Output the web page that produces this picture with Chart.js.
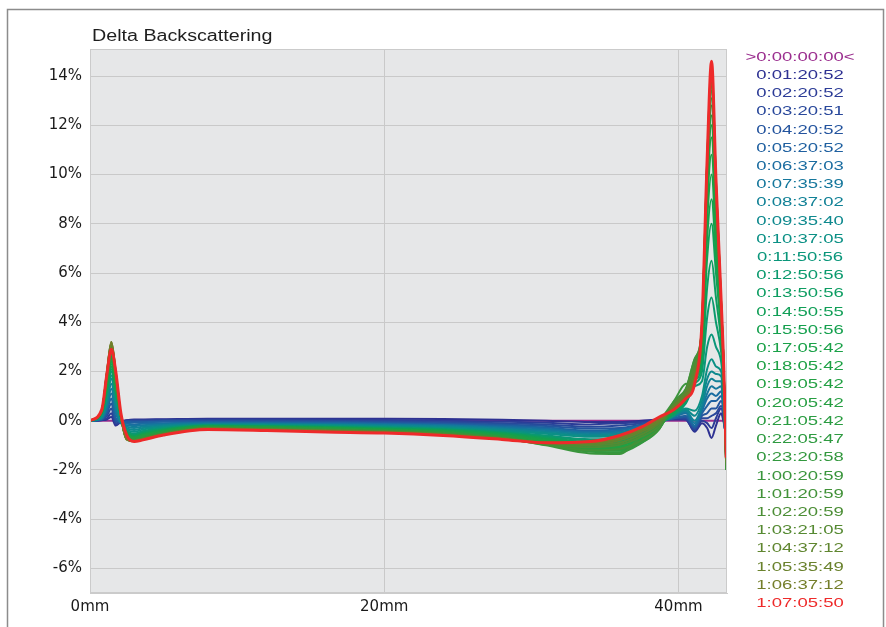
<!DOCTYPE html>
<html>
<head>
<meta charset="utf-8">
<title>Delta Backscattering</title>
<script src="https://cdn.jsdelivr.net/npm/chart.js@4.4.1/dist/chart.umd.min.js"></script>
<style>
  html, body { margin: 0; padding: 0; background: #fff; }
  #wrap { width: 886px; height: 627px; }
</style>
</head>
<body>
<div id="wrap"><canvas id="deltaChart" width="886" height="627"></canvas></div>
<script>
// sample height in the cell (mm)
const positions = [0, 0.8, 1.15, 1.45, 1.75, 2.1, 2.5, 3.0, 3.6, 5, 8, 12, 16, 20, 24, 28, 31, 34, 36, 37.5, 38.7, 39.7, 40.5, 41.1, 41.6, 41.95, 42.25, 42.55, 42.9, 43.05, 43.25];

// scan times (legend)
const timeLabels = ['>0:00:00:00<', '0:01:20:52', '0:02:20:52', '0:03:20:51', '0:04:20:52', '0:05:20:52',
  '0:06:37:03', '0:07:35:39', '0:08:37:02', '0:09:35:40', '0:10:37:05', '0:11:50:56', '0:12:50:56',
  '0:13:50:56', '0:14:50:55', '0:15:50:56', '0:17:05:42', '0:18:05:42', '0:19:05:42', '0:20:05:42',
  '0:21:05:42', '0:22:05:47', '0:23:20:58', '1:00:20:59', '1:01:20:59', '1:02:20:59', '1:03:21:05',
  '1:04:37:12', '1:05:35:49', '1:06:37:12', '1:07:05:50'];

const seriesColors = ['#9b2f8f', '#2e3192', '#2c3c97', '#29489b', '#24549e', '#1f60a0',
  '#1a6ca0', '#15779c', '#118196', '#0e898e', '#0b9085', '#0a967a', '#0b9a6e',
  '#0d9d62', '#119f57', '#15a04e', '#1aa148', '#1ea145', '#22a043', '#269e42',
  '#2a9c41', '#2e9a40', '#33983e', '#3a953c', '#429239', '#4c8e36', '#568a33',
  '#608630', '#6a822d', '#747e2a', '#ee2a2a'];

// delta backscattering (%), one array per scan
const v00 = [0, 0, 0, 0, 0, 0, 0, 0, 0, 0, 0, 0, 0, 0, 0, 0, 0, 0, 0, 0, 0, 0, 0, 0, 0, 0, 0, 0, 0, 0, 0];
const v01 = [0, 0.02, 0.05, 0.15, -0.2, -0.05, 0.02, 0.05, 0.05, 0.06, 0.08, 0.08, 0.08, 0.08, 0.07, 0.04, 0, -0.05, -0.05, 0, 0.05, 0.05, 0.05, -0.45, -0.1, -0.3, -0.7, -0.2, 0.3, 0, -0.6];
const v02 = [0, 0.03, 0.1, 0.3, -0.15, -0.05, 0.01, 0.03, 0.03, 0.04, 0.05, 0.05, 0.04, 0.03, 0, -0.04, -0.08, -0.15, -0.1, -0.05, 0.05, 0.1, 0.05, -0.4, 0, -0.1, -0.3, 0.1, 0.5, 0.2, -0.8];
const v03 = [0, 0.04, 0.2, 0.5, -0.1, -0.05, 0, 0, 0, 0.02, 0.02, 0.01, 0, -0.02, -0.05, -0.1, -0.15, -0.25, -0.2, -0.1, 0, 0.1, 0.1, -0.35, 0.1, 0.1, 0.2, 0.3, 0.6, 0.3, -0.9];
const v04 = [0, 0.05, 0.3, 0.7, 0, -0.05, -0.02, -0.03, -0.03, -0.01, -0.02, -0.03, -0.04, -0.06, -0.1, -0.15, -0.22, -0.32, -0.3, -0.15, 0, 0.1, 0.15, -0.3, 0.2, 0.3, 0.5, 0.5, 0.8, 0.4, -1.0];
const v05 = [0, 0.06, 0.4, 0.9, 0.1, -0.05, -0.05, -0.07, -0.06, -0.04, -0.05, -0.06, -0.08, -0.1, -0.14, -0.2, -0.28, -0.4, -0.35, -0.2, -0.05, 0.1, 0.2, -0.25, 0.3, 0.6, 0.8, 0.8, 1.0, 0.5, -1.1];
const v06 = [0, 0.08, 0.5, 1.1, 0.3, -0.08, -0.12, -0.15, -0.12, -0.1, -0.08, -0.09, -0.11, -0.13, -0.17, -0.25, -0.33, -0.45, -0.4, -0.2, 0, 0.15, 0.3, -0.2, 0.4, 0.9, 1.1, 1.0, 1.2, 0.6, -1.2];
const v07 = [0, 0.1, 0.6, 1.3, 0.45, -0.1, -0.18, -0.22, -0.18, -0.14, -0.1, -0.12, -0.14, -0.16, -0.2, -0.29, -0.38, -0.5, -0.45, -0.25, 0, 0.18, 0.35, -0.1, 0.5, 1.1, 1.4, 1.3, 1.4, 0.7, -1.3];
const v08 = [0, 0.12, 0.7, 1.5, 0.6, -0.1, -0.24, -0.3, -0.24, -0.18, -0.13, -0.14, -0.16, -0.19, -0.23, -0.33, -0.43, -0.55, -0.5, -0.3, 0, 0.2, 0.4, 0, 0.6, 1.4, 1.7, 1.6, 1.6, 0.8, -1.3];
const v09 = [0, 0.14, 0.8, 1.7, 0.75, -0.05, -0.3, -0.38, -0.3, -0.22, -0.15, -0.16, -0.18, -0.22, -0.27, -0.37, -0.48, -0.6, -0.55, -0.32, -0.02, 0.22, 0.45, 0.2, 0.8, 1.7, 2.0, 1.9, 1.8, 1.0, -1.4];
const v10 = [0, 0.16, 0.9, 1.85, 0.85, 0, -0.35, -0.45, -0.36, -0.26, -0.17, -0.18, -0.2, -0.25, -0.3, -0.41, -0.53, -0.65, -0.6, -0.35, -0.03, 0.25, 0.5, 0.4, 1.0, 2.1, 2.5, 2.2, 2.0, 1.2, -1.4];
const v11 = [0, 0.28, 1.15, 2.0, 1.1, 0.2, -0.4, -0.52, -0.42, -0.3, -0.19, -0.21, -0.23, -0.27, -0.33, -0.45, -0.6, -0.75, -0.7, -0.4, -0.08, 0.2, 0.7, 1.4, 1.6, 3.0, 3.5, 3.0, 2.4, 1.5, -1.5];
const v12 = [0, 0.3, 1.2, 2.1, 1.15, 0.2, -0.45, -0.56, -0.46, -0.33, -0.2, -0.22, -0.25, -0.29, -0.35, -0.48, -0.64, -0.8, -0.76, -0.45, -0.1, 0.25, 0.75, 1.5, 2.0, 4.2, 5.0, 4.0, 2.8, 1.7, -1.5];
const v13 = [0, 0.3, 1.27, 2.2, 1.2, 0.2, -0.48, -0.6, -0.5, -0.36, -0.21, -0.23, -0.26, -0.31, -0.37, -0.5, -0.68, -0.86, -0.82, -0.5, -0.13, 0.3, 0.8, 1.6, 2.3, 5.4, 6.5, 5.0, 3.2, 1.8, -1.6];
const v14 = [0, 0.32, 1.32, 2.3, 1.27, 0.2, -0.5, -0.63, -0.53, -0.38, -0.22, -0.24, -0.27, -0.33, -0.39, -0.52, -0.72, -0.92, -0.88, -0.55, -0.15, 0.35, 0.85, 1.7, 2.6, 6.6, 8.0, 6.0, 3.5, 1.9, -1.6];
const v15 = [0, 0.32, 1.38, 2.4, 1.32, 0.2, -0.52, -0.66, -0.56, -0.4, -0.23, -0.25, -0.29, -0.35, -0.41, -0.55, -0.76, -0.98, -0.95, -0.6, -0.18, 0.4, 0.9, 1.8, 2.8, 7.4, 9.0, 6.7, 3.7, 2.0, -1.7];
const v16 = [0, 0.34, 1.44, 2.5, 1.38, 0.2, -0.55, -0.68, -0.58, -0.42, -0.24, -0.26, -0.3, -0.36, -0.43, -0.58, -0.8, -1.02, -0.98, -0.65, -0.2, 0.45, 0.95, 1.9, 3.0, 8.1, 10.0, 7.3, 3.9, 2.1, -1.7];
const v17 = [0, 0.34, 1.5, 2.55, 1.44, 0.2, -0.57, -0.7, -0.6, -0.44, -0.25, -0.27, -0.31, -0.37, -0.44, -0.6, -0.84, -1.06, -1.02, -0.7, -0.22, 0.5, 1.0, 2.0, 3.2, 8.7, 10.8, 7.8, 4.1, 2.2, -1.8];
const v18 = [0, 0.36, 1.55, 2.6, 1.5, 0.2, -0.6, -0.72, -0.62, -0.46, -0.26, -0.28, -0.32, -0.38, -0.46, -0.62, -0.87, -1.1, -1.07, -0.75, -0.25, 0.55, 1.05, 2.1, 3.3, 9.2, 11.5, 8.3, 4.2, 2.3, -1.8];
const v19 = [0, 0.36, 1.6, 2.7, 1.55, 0.2, -0.62, -0.74, -0.64, -0.47, -0.27, -0.29, -0.33, -0.39, -0.47, -0.64, -0.9, -1.14, -1.12, -0.8, -0.27, 0.6, 1.1, 2.2, 3.4, 9.5, 12.0, 8.6, 4.3, 2.4, -1.9];
const v20 = [0, 0.38, 1.67, 2.75, 1.6, 0.2, -0.64, -0.75, -0.66, -0.48, -0.28, -0.3, -0.34, -0.4, -0.48, -0.66, -0.93, -1.18, -1.17, -0.85, -0.3, 0.65, 1.15, 2.3, 3.5, 9.8, 12.4, 8.9, 4.4, 2.4, -1.9];
const v21 = [0, 0.38, 1.72, 2.8, 1.67, 0.2, -0.66, -0.76, -0.68, -0.49, -0.28, -0.31, -0.35, -0.41, -0.49, -0.67, -0.95, -1.22, -1.22, -0.88, -0.32, 0.7, 1.2, 2.4, 3.6, 10.0, 12.8, 9.1, 4.5, 2.5, -2.0];
const v22 = [0, 0.4, 1.78, 2.85, 1.72, 0.2, -0.68, -0.77, -0.7, -0.5, -0.29, -0.32, -0.36, -0.42, -0.5, -0.68, -0.97, -1.26, -1.28, -0.9, -0.34, 0.75, 1.25, 2.5, 3.7, 10.1, 13.1, 9.2, 4.5, 2.5, -2.0];
const v23 = [0, 0.4, 1.84, 2.9, 1.78, 0.2, -0.7, -0.78, -0.71, -0.51, -0.3, -0.33, -0.37, -0.43, -0.52, -0.7, -1.0, -1.33, -1.35, -0.6, 0, 0.8, 1.5, 1.6, 3.8, 10.2, 13.4, 9.3, 4.6, 2.6, -2.0];
const v24 = [0, 0.4, 1.86, 3.0, 1.84, 0.2, -0.72, -0.79, -0.72, -0.52, -0.3, -0.34, -0.38, -0.44, -0.53, -0.71, -0.98, -1.2, -1.15, -0.8, -0.3, 0.8, 1.3, 2.5, 3.8, 10.3, 13.6, 9.4, 4.6, 2.6, -1.9];
const v25 = [0, 0.4, 1.9, 3.05, 1.86, 0.2, -0.73, -0.8, -0.73, -0.53, -0.31, -0.35, -0.39, -0.44, -0.54, -0.7, -0.92, -1.08, -0.98, -0.65, -0.2, 0.7, 1.25, 2.3, 3.8, 10.3, 13.8, 9.5, 4.7, 2.6, -1.8];
const v26 = [0, 0.4, 1.93, 3.1, 1.9, 0.2, -0.74, -0.81, -0.74, -0.54, -0.31, -0.35, -0.4, -0.45, -0.55, -0.71, -0.9, -1.0, -0.9, -0.55, -0.1, 0.65, 1.2, 2.1, 3.9, 10.4, 14.0, 9.6, 4.7, 2.6, -1.7];
const v27 = [0, 0.4, 1.95, 3.15, 1.93, 0.2, -0.75, -0.82, -0.75, -0.55, -0.32, -0.36, -0.41, -0.46, -0.56, -0.72, -0.9, -0.95, -0.8, -0.45, -0.05, 0.6, 1.1, 1.9, 3.9, 10.4, 14.1, 9.6, 4.8, 2.6, -1.7];
const v28 = [0, 0.4, 1.95, 3.2, 1.95, 0.2, -0.76, -0.83, -0.76, -0.56, -0.32, -0.36, -0.41, -0.47, -0.57, -0.73, -0.9, -0.9, -0.72, -0.38, 0, 0.55, 1.0, 1.8, 3.9, 10.5, 14.2, 9.7, 4.8, 2.6, -1.6];
const v29 = [0, 0.4, 1.98, 3.2, 1.98, 0.2, -0.77, -0.84, -0.77, -0.57, -0.33, -0.37, -0.42, -0.47, -0.58, -0.74, -0.9, -0.88, -0.66, -0.32, 0.05, 0.5, 0.95, 1.7, 4.0, 10.5, 14.3, 9.7, 4.8, 2.6, -1.6];
const v30 = [0, 0.45, 1.9, 2.9, 2.0, 0.3, -0.6, -0.85, -0.78, -0.58, -0.36, -0.4, -0.46, -0.5, -0.6, -0.76, -0.9, -0.85, -0.6, -0.25, 0.15, 0.45, 0.9, 1.5, 4.0, 10.6, 14.6, 9.8, 4.9, 2.7, -1.5];

const seriesValues = [v00, v01, v02, v03, v04, v05, v06, v07, v08, v09, v10, v11, v12, v13, v14, v15,
  v16, v17, v18, v19, v20, v21, v22, v23, v24, v25, v26, v27, v28, v29, v30];

const xTickValues = [0, 20, 40];
const yTickValues = [-6, -4, -2, 0, 2, 4, 6, 8, 10, 12, 14];

const lastIndex = seriesValues.length - 1;
const datasets = seriesValues.map((vals, i) => ({
  label: timeLabels[i],
  data: positions.map((x, j) => ({ x: x, y: vals[j] })),
  borderColor: seriesColors[i],
  borderWidth: i === lastIndex ? 3 : 2,
  pointRadius: 0,
  cubicInterpolationMode: 'monotone',
  // later scans on top, red last
  order: lastIndex - i
}));

// stretched text like the original export
function wideText(ctx, text, x, y, sx, align) {
  ctx.save();
  ctx.translate(x, y);
  ctx.scale(sx, 1);
  ctx.textAlign = align;
  ctx.fillText(text, 0, 0);
  ctx.restore();
}

const framePlugin = {
  id: 'framePlugin',
  beforeDraw(chart) {
    const { ctx, chartArea: a } = chart;
    ctx.save();
    ctx.fillStyle = '#ffffff';
    ctx.fillRect(0, 0, chart.width, chart.height);
    ctx.fillStyle = '#e6e7e8';
    ctx.fillRect(a.left, a.top, a.right - a.left, a.bottom - a.top);
    ctx.restore();
  },
  afterDraw(chart) {
    const { ctx, chartArea: a } = chart;
    ctx.save();
    // plot border
    ctx.strokeStyle = '#cbcbcb';
    ctx.lineWidth = 1;
    ctx.strokeRect(a.left + 0.5, a.top + 0.5, a.right - a.left - 1, a.bottom - a.top - 1);
    // outer frame
    ctx.strokeStyle = '#8c8c8c';
    ctx.lineWidth = 1.5;
    ctx.beginPath();
    ctx.moveTo(7.5, chart.height + 2);
    ctx.lineTo(7.5, 9.5);
    ctx.lineTo(883.5, 9.5);
    ctx.lineTo(883.5, chart.height + 2);
    ctx.stroke();
    // title
    ctx.fillStyle = '#1e1e1e';
    ctx.font = '16px "Liberation Sans", Arial, sans-serif';
    ctx.textBaseline = 'alphabetic';
    wideText(ctx, 'Delta Backscattering', 92, 41, 1.23, 'left');
    // legend of scan times
    ctx.font = '13.5px "Liberation Sans", Arial, sans-serif';
    ctx.textBaseline = 'middle';
    timeLabels.forEach((label, i) => {
      ctx.fillStyle = seriesColors[i];
      wideText(ctx, label, 800, 57 + i * 18.21, 1.37, 'center');
    });
    ctx.restore();
  }
};

const tickFont = { family: '"DejaVu Sans", sans-serif', size: 15 };

new Chart(document.getElementById('deltaChart').getContext('2d'), {
  type: 'line',
  data: { datasets: datasets },
  options: {
    responsive: false,
    animation: false,
    devicePixelRatio: 1,
    layout: { padding: { left: 0, top: 49, right: 159, bottom: 0 } },
    plugins: {
      legend: { display: false },
      tooltip: { enabled: false },
      title: { display: false }
    },
    scales: {
      x: {
        type: 'linear',
        min: 0,
        max: 43.3,
        afterBuildTicks: scale => { scale.ticks = xTickValues.map(v => ({ value: v })); },
        afterFit: scale => { scale.height = 34; },
        grid: { color: '#c9c9c9', drawTicks: false },
        border: { color: '#cbcbcb' },
        ticks: {
          padding: 5,
          autoSkip: false,
          maxRotation: 0,
          color: '#1a1a1a',
          font: tickFont,
          callback: v => v + 'mm'
        }
      },
      y: {
        min: -7,
        max: 15.1,
        afterBuildTicks: scale => { scale.ticks = yTickValues.map(v => ({ value: v })); },
        afterFit: scale => { scale.width = 90; },
        grid: { color: '#c9c9c9', drawTicks: false },
        border: { color: '#cbcbcb' },
        ticks: {
          padding: 8,
          color: '#1a1a1a',
          font: tickFont,
          callback: v => v + '%'
        }
      }
    }
  },
  plugins: [framePlugin]
});
</script>
</body>
</html>
